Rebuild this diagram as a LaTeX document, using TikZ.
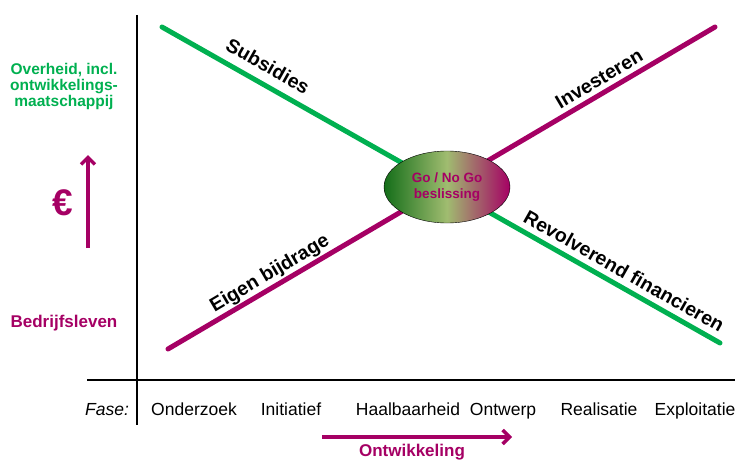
\documentclass[tikz,border=0pt]{standalone}
\usepackage{fontspec}
\setmainfont{Liberation Sans}
\usetikzlibrary{arrows.meta,shapes.geometric}
\definecolor{groen}{RGB}{0,176,80}
\definecolor{paars}{RGB}{165,0,100}
\definecolor{donkergroen}{RGB}{20,110,25}
\definecolor{lichtgroen}{RGB}{160,188,112}

\begin{document}
\begin{tikzpicture}[x=1pt,y=-1pt,
  lijn/.style={line width=5pt,line cap=round},
  schuin/.style={font=\fontsize{19.5}{21}\selectfont\bfseries},
  fase/.style={font=\fontsize{17.5}{19}\selectfont,anchor=base},
  pijl/.style={paars,line width=3.5pt,-{Straight Barb[length=7pt,width=14pt]}}]
\useasboundingbox (0,0) rectangle (735,460);
% assen
\coordinate (vtop) at (137,15);
\coordinate (vbot) at (137,425);
\coordinate (hl) at (87,380);
\coordinate (hr) at (735,380);
\draw[line width=2.5pt] (vtop)--(vbot) (hl)--(hr);
% lijnen
\coordinate (g1) at (162,27);
\coordinate (g2) at (720,343);
\coordinate (p1) at (168,349);
\coordinate (p2) at (715,27);
\draw[lijn,groen] (g1)--(g2);
\draw[lijn,paars] (p1)--(p2);
\node[draw=black,thin,ellipse,minimum width=126pt,minimum height=72pt,
  left color=donkergroen,right color=paars,middle color=lichtgroen,
  text=paars,align=center,font=\fontsize{13.5}{15.5}\selectfont\bfseries] (go) at (447,187) {Go / No Go\\beslissing};
\node[schuin,rotate=-29.5] (sub) at (268,66) {Subsidies};
\node[schuin,rotate=30.5] (inv) at (599,79) {Investeren};
\node[schuin,rotate=30.5] (eig) at (270,274) {Eigen bijdrage};
\node[schuin,rotate=-29.5] (rev) at (624,271) {Revolverend financieren};
% links
\node[groen,align=center,font=\fontsize{15.5}{16}\selectfont\bfseries] (ovh) at (64,86) {Overheid, incl.\\ontwikkelings-\\maatschappij};
\node[paars,font=\fontsize{37}{38}\selectfont\bfseries] (eur) at (63,203) {€};
\coordinate (e1) at (88,248);
\coordinate (e2) at (88,155);
\draw[pijl] (e1)--(e2);
\node[paars,font=\fontsize{17}{19}\selectfont\bfseries] (bed) at (64,323) {Bedrijfsleven};
% fasen
\node[fase,font=\fontsize{17.5}{19}\selectfont\itshape] (fs) at (107,415) {Fase:};
\node[fase] (f1) at (194,415) {Onderzoek};
\node[fase] (f2) at (291,415) {Initiatief};
\node[fase] (f3) at (408,415) {Haalbaarheid};
\node[fase] (f4) at (503,415) {Ontwerp};
\node[fase] (f5) at (599,415) {Realisatie};
\node[fase] (f6) at (695,415) {Exploitatie};
\coordinate (o1) at (322,437);
\coordinate (o2) at (512,437);
\draw[pijl] (o1)--(o2);
\node[paars,font=\fontsize{17}{19}\selectfont\bfseries] (ont) at (412,452) {Ontwikkeling};
\end{tikzpicture}
\end{document}
